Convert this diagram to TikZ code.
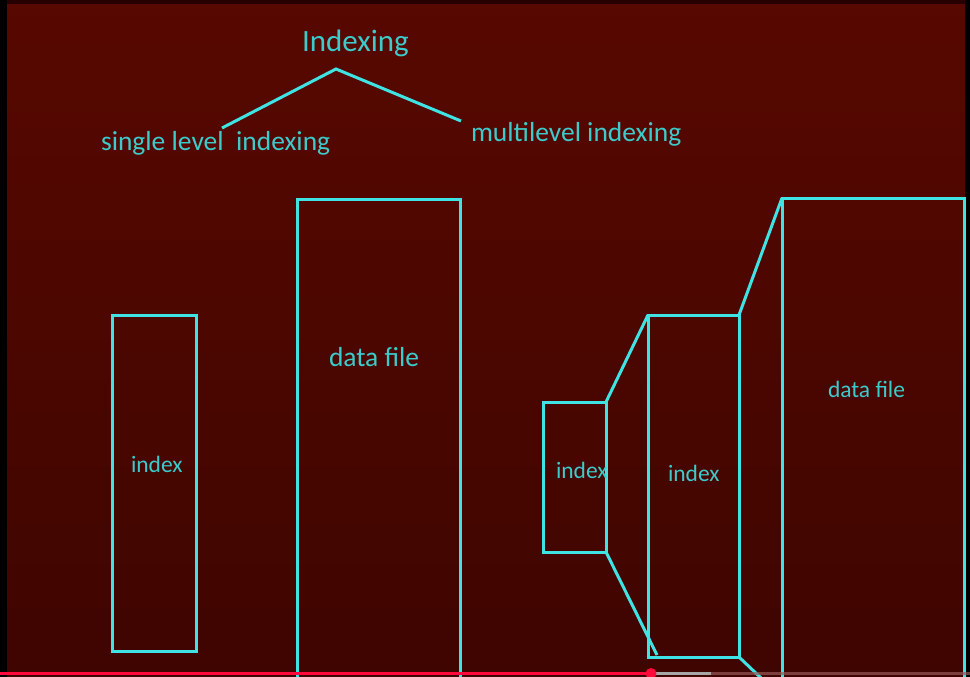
\documentclass[tikz,border=0pt]{standalone}
\usepackage{fontspec}
\setmainfont{Carlito}
\usetikzlibrary{calc}
\definecolor{bgtop}{HTML}{570800}
\definecolor{bgbot}{HTML}{3F0500}
\definecolor{cyanline}{HTML}{3FE3E3}
\definecolor{cyantext}{HTML}{3DCACA}
\definecolor{barred}{HTML}{FF0A3A}
\tikzset{
  x=1pt,y=-1pt,
  box/.style={draw=cyanline,line width=3pt,anchor=north west,inner sep=0pt,outer sep=0pt},
  conn/.style={draw=cyanline,line width=3pt},
  lbl/.style={text=cyantext,anchor=base west,inner sep=0pt,outer sep=0pt},
  big/.style={lbl,font=\fontsize{31}{31}\selectfont},
  mid/.style={lbl,font=\fontsize{27.5}{27.5}\selectfont},
  sml/.style={lbl,font=\fontsize{23.5}{23.5}\selectfont}
}
\begin{document}
\begin{tikzpicture}
\useasboundingbox (0,0) rectangle (970,677);
\clip (0,0) rectangle (970,677);
\shade[top color=bgtop,bottom color=bgbot] (0,0) rectangle (970,677);
\fill[black!85!red] (0,0) rectangle (970,4);
\fill[black] (0,0) rectangle (7,677);
\fill[black] (965,0) rectangle (970,677);
% title tree
\node[big] (title) at (302,52) {Indexing};
\coordinate (apex) at (336,69);
\coordinate (lend) at (222,128);
\coordinate (rend) at (461,121);
\draw[conn] (lend) -- (apex) -- (rend);
\node[mid] (single) at (101,150) {single level\ \ indexing};
\node[mid] (multi) at (471,142) {multilevel indexing};
% single level
\node[box,minimum width=84pt,minimum height=336pt] (idxA) at (112,315) {};
\node[box,minimum width=163pt,minimum height=499pt] (dfA) at (297,199) {};
\node[sml] (idxAt) at (131,472) {index};
\node[mid] (dfAt) at (329,366) {data file};
% multilevel
\node[box,minimum width=63pt,minimum height=150pt] (idxB) at (543,402) {};
\node[box,minimum width=91pt,minimum height=342pt] (idxC) at (648,315) {};
\node[box,minimum width=182pt,minimum height=500pt] (dfB) at (782,198) {};
\node[sml] (idxBt) at (556,478) {index};
\node[sml] (idxCt) at (668,481) {index};
\node[sml] (dfBt) at (828,397) {data file};
\coordinate (e1) at (657,655);
\draw[conn] (idxB.north east) -- (idxC.north west);
\draw[conn] (idxB.south east) -- (e1);
\draw[conn] (idxC.north east) -- (dfB.north west);
\draw[conn] (idxC.south east) -- (dfB.south west);
% player bar
\fill[black!20!red!30!gray,opacity=0.7] (711,672) rectangle (970,675);
\fill[gray!70!white] (651,672) rectangle (711,675);
\fill[barred] (0,672) rectangle (651,675);
\fill[barred] (651,673.5) circle (5.5);
\end{tikzpicture}
\end{document}
